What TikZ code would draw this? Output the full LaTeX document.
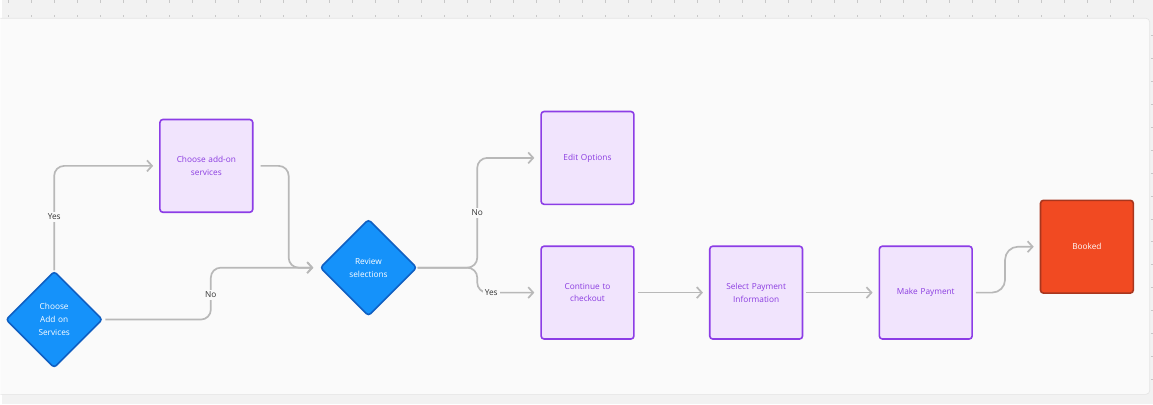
\documentclass[tikz,border=0pt]{standalone}
\usepackage{fontspec}
\setmainfont{Open Sans}
\usetikzlibrary{shapes.geometric,arrows.meta}
\definecolor{bgout}{HTML}{F2F2F2}
\definecolor{canvas}{HTML}{FAFAFA}
\definecolor{canvasline}{HTML}{E4E4E4}
\definecolor{tick}{HTML}{C8C8C8}
\definecolor{conngray}{HTML}{B8B8B8}
\definecolor{dblue}{HTML}{1592FA}
\definecolor{dblueline}{HTML}{0F5FC2}
\definecolor{pfill}{HTML}{F1E4FD}
\definecolor{pline}{HTML}{8C3DE6}
\definecolor{ptext}{HTML}{8A3BE0}
\definecolor{rfill}{HTML}{F14A22}
\definecolor{rline}{HTML}{A8361E}
\definecolor{lbl}{HTML}{333333}
\tikzset{
  x=1pt, y=-1pt,
  decision/.style={diamond, draw=dblueline, fill=dblue, line width=1.6pt, rounded corners=3pt,
    minimum width=97pt, minimum height=97pt, inner sep=0pt, text width=48pt, align=center,
    text=white, font=\fontsize{8.3}{12.8}\selectfont},
  stepbox/.style={rectangle, draw=pline, fill=pfill, line width=1.6pt, rounded corners=3pt,
    minimum width=93pt, minimum height=93pt, inner sep=0pt, text width=84pt, align=center,
    text=ptext, font=\fontsize{8.3}{12.8}\selectfont},
  endbox/.style={rectangle, draw=rline, fill=rfill, line width=1.6pt, rounded corners=3pt,
    minimum width=93pt, minimum height=93pt, inner sep=0pt, align=center,
    text=white, font=\fontsize{8.3}{12.8}\selectfont},
  conn/.style={draw=conngray, line width=1.7pt, rounded corners=10pt,
    -{Straight Barb[length=5pt,width=11pt,line width=1.7pt]}},
  lab/.style={fill=canvas, text=lbl, inner sep=2pt, font=\fontsize{8.3}{10}\selectfont},
}
\begin{document}
\begin{tikzpicture}
% background
\fill[bgout] (0,0) rectangle (1153,405);
\foreach \i in {0,...,49} {
  \draw[tick, line width=0.5pt] ({6+23*\i},0) -- ({6+23*\i},3);
  \draw[tick, line width=0.5pt] ({6+23*\i},15) -- ({6+23*\i},17);
}
\foreach \j in {0,...,15} {
  \draw[tick, line width=0.5pt] (1151,{35+23*\j}) -- (1153,{35+23*\j});
}
\draw[fill=canvas, draw=canvasline, line width=0.6pt, rounded corners=4pt]
  (-2,18) -- (1150,18) -- (1150,395) -- (-2,395);

% nodes
\node[decision] (c1) at (52,320) {Choose\\Add on\\Services};
\node[stepbox] (a1) at (204.5,166) {Choose add-on\\services};
\node[decision] (rv) at (367,268) {Review\\selections};
\node[stepbox] (eo) at (586.5,158) {Edit Options};
\node[stepbox] (co) at (586.5,293) {Continue to\\checkout};
\node[stepbox] (sp) at (755.5,293) {Select Payment\\Information};
\node[stepbox] (mp) at (925.5,293) {Make Payment};
\node[endbox] (bk) at (1087,247) {Booked};

% connectors
\draw[conn, shorten >=6pt] (c1.north) -- (52,166) -- (a1.west);
\node[lab] (ly) at (52,217) {Yes};

\draw[conn, shorten <=2pt, shorten >=6pt] (c1.east) -- (209,320) -- (209,268) -- (rv.west);
\node[lab] (ln1) at (209,295) {No};

\draw[conn, shorten <=7pt, shorten >=6pt] (a1.east) -- (287,166) -- (287,268) -- (rv.west);

\draw[conn, shorten >=6pt] (rv.east) -- (476,268) -- (476,158) -- (eo.west);
\node[lab] (ln2) at (476,213) {No};
\draw[conn, shorten >=6pt] (rv.east) -- (476,268) -- (476,293) -- (co.west);
\node[lab] (ly2) at (490,293) {Yes};

\draw[conn, shorten <=3pt, shorten >=6pt] (co.east) -- (sp.west);
\draw[conn, shorten <=3pt, shorten >=6pt] (sp.east) -- (mp.west);
\draw[conn, rounded corners=13pt, shorten <=3pt, shorten >=6pt] (mp.east) -- (1005,293) -- (1005,247) -- (bk.west);
\end{tikzpicture}
\end{document}
